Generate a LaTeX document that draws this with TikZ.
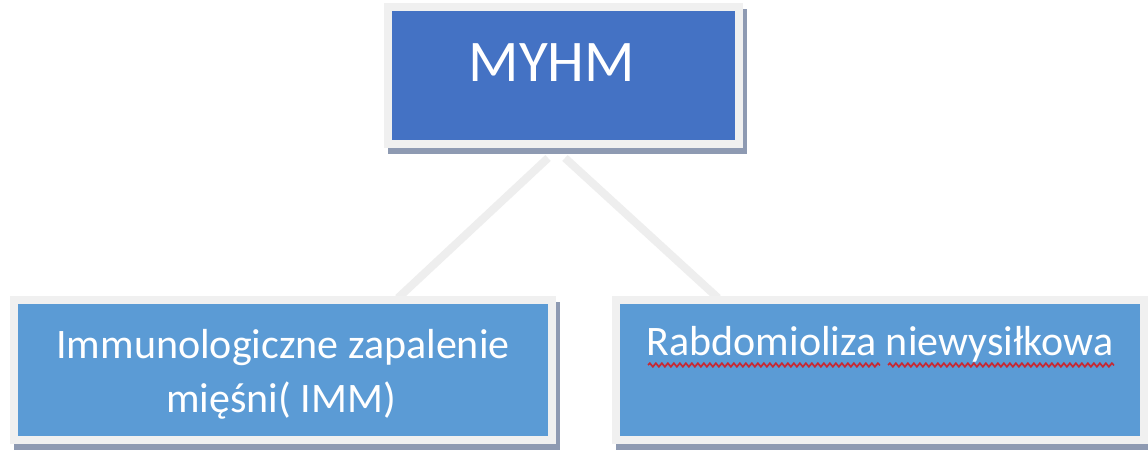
\documentclass[tikz,border=0pt]{standalone}
\usepackage{fontspec}
\setmainfont{Carlito}
\usetikzlibrary{decorations.pathmorphing}
\definecolor{topblue}{RGB}{68,114,196}
\definecolor{subblue}{RGB}{91,155,213}
\definecolor{framec}{RGB}{240,240,240}
\definecolor{shadowc}{RGB}{142,154,178}
\definecolor{linkc}{RGB}{238,238,238}
\definecolor{squig}{RGB}{200,40,50}
\tikzset{
  boxbase/.style={rectangle, draw=framec, line width=8pt, inner sep=0pt},
  topbox/.style={boxbase, fill=topblue},
  subbox/.style={boxbase, fill=subblue},
  shadowfill/.style={fill=shadowc},
  link/.style={draw=linkc, line width=8pt},
  toptext/.style={text=white, font=\fontsize{59}{70}\selectfont, inner sep=0pt, anchor=base},
  subtext/.style={text=white, font=\fontsize{42}{55}\selectfont, inner sep=0pt, anchor=base},
  wavy/.style={draw=squig, line width=1.7pt, decorate, decoration={snake, amplitude=1.8pt, segment length=6pt}}
}
\begin{document}
\begin{tikzpicture}[x=1pt,y=-1pt]
\useasboundingbox[fill=white] (0,0) rectangle (1148,450);
% connectors
\coordinate (lt) at (548,158);
\coordinate (lb) at (398,298);
\coordinate (rt) at (565,158);
\coordinate (rb) at (718,298);
\draw[link] (lt) -- (lb);
\draw[link] (rt) -- (rb);
% shadows
\fill[shadowfill] (388,9) rectangle (747,154);
\fill[shadowfill] (14,302) rectangle (560,450);
\fill[shadowfill] (616,302) rectangle (1152,450);
% boxes
\node[topbox, minimum width=351pt, minimum height=137pt] (top) at (563.5,75.5) {};
\node[subbox, minimum width=538pt, minimum height=140pt] (left) at (283,370) {};
\node[subbox, minimum width=528pt, minimum height=140pt] (right) at (880,370) {};
% texts
\node[toptext] (toplabel) at (552,81) {MYHM};
\node[subtext] (leftl1) at (283,358) {Immunologiczne zapalenie};
\node[subtext] (leftl2) at (281,412) {mięśni( IMM)};
\node[subtext] (rightl1) at (880,355) {Rabdomioliza niewysiłkowa};
% spelling squiggles
\draw[wavy] (648,365) -- (880,365);
\draw[wavy] (888,365) -- (1114,365);
\end{tikzpicture}
\end{document}
